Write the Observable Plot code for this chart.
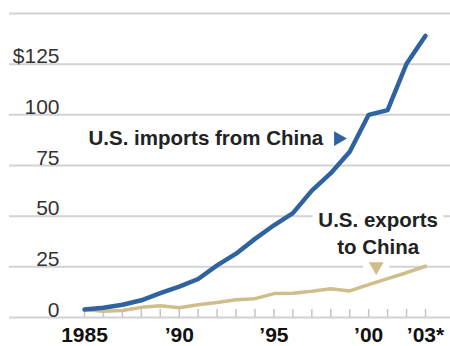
<!DOCTYPE html>
<html><head><meta charset="utf-8">
<script src="https://cdn.jsdelivr.net/npm/d3@7"></script>
<script src="https://cdn.jsdelivr.net/npm/@observablehq/plot@0.6"></script>
<style>body{margin:0;background:#fff;font-family:"Liberation Sans",Arial,sans-serif}</style>
</head><body><div id="chart"></div>
<script>
const years = [1985,1986,1987,1988,1989,1990,1991,1992,1993,1994,1995,1996,1997,1998,1999,2000,2001,2002,2003];
const importsValues = [3.9,4.8,6.3,8.5,12.0,15.2,19.0,25.7,31.5,38.8,45.5,51.5,62.6,71.2,81.8,100.0,102.3,125.2,139];
const exportsValues = [3.9,3.1,3.5,5.0,5.8,4.8,6.3,7.4,8.8,9.3,11.8,12.0,12.9,14.2,13.1,16.2,19.2,22.1,25.3];
const gridValues = [0,25,50,75,100,125,150];
const yTickValues = [0,25,50,75,100,125];
const yTickLabels = ["0","25","50","75","100","$125"];
const xTickValues = [1985,1990,1995,2000,2003];
const xTickLabels = ["1985","’90","’95","’00","’03*"];
const importsLabel = ["U.S. imports from China"];
const importsLabelYear = [1997.6];
const importsLabelValue = [88.3];
const exportsLabel = ["U.S. exports","to China"];
const exportsLabelYears = [2000.5,2000.5];
const exportsLabelValues = [47.9,34.5];
const markerYears = [1998.4,2000.4];
const markerValues = [88.3,25.2];
const markerRotations = [90,180];
const markerColors = ["#2f63a0","#cfbd8b"];

const importsRows = years.map((y,i)=>({year:y,value:importsValues[i]}));
const exportsRows = years.map((y,i)=>({year:y,value:exportsValues[i]}));
const impLabelRows = importsLabel.map((t,i)=>({text:t,year:importsLabelYear[i],value:importsLabelValue[i]}));
const expLabelRows = exportsLabel.map((t,i)=>({text:t,year:exportsLabelYears[i],value:exportsLabelValues[i]}));
const markers = markerYears.map((y,i)=>({year:y,value:markerValues[i],rotate:markerRotations[i],color:markerColors[i]}));

const chart = Plot.plot({
  width: 450,
  height: 346,
  marginTop: 13,
  marginBottom: 29,
  marginLeft: 9,
  marginRight: 0,
  style: {fontFamily: '"Liberation Sans", Arial, sans-serif', background: "#fff"},
  x: {domain: [1985, 2003], range: [84, 425], axis: null},
  y: {domain: [0, 150], axis: null},
  marks: [
    Plot.ruleY(gridValues, {y: d => d, stroke: "#d2d2d6", strokeWidth: 2}),
    Plot.tickX(years, {x: d => d, stroke: "#c4c4c4", strokeWidth: 1.5, insetTop: 296}),
    Plot.text(yTickValues, {y: d => d, text: (d, i) => yTickLabels[i], frameAnchor: "left", dx: 50, textAnchor: "end", lineAnchor: "bottom", dy: -1, fontSize: 21, fill: "#333"}),
    Plot.text(xTickValues, {x: d => d, text: (d, i) => xTickLabels[i], frameAnchor: "bottom", lineAnchor: "top", dy: 10, fontSize: 21, fontWeight: "bold", fill: "#111"}),
    Plot.line(exportsRows, {x: "year", y: "value", stroke: "#cfbd8b", strokeWidth: 3.5}),
    Plot.line(importsRows, {x: "year", y: "value", stroke: "#2f63a0", strokeWidth: 4.5}),
    Plot.dot(markers.slice(1), {x: "year", y: "value", r: 13, fill: "#fff"}),
    Plot.dot(markers, {x: "year", y: "value", symbol: "triangle", r: 5.5, rotate: "rotate", fill: "color", stroke: "none"}),
    Plot.text(impLabelRows, {x: "year", y: "value", text: "text", textAnchor: "end", fontSize: 20.5, fontWeight: "bold", fill: "#222"}),
    Plot.text(expLabelRows, {x: "year", y: "value", text: "text", textAnchor: "middle", fontSize: 20.5, fontWeight: "bold", fill: "#222", stroke: "#fff", strokeWidth: 14})
  ]
});
document.getElementById("chart").append(chart);
</script>
</body></html>
